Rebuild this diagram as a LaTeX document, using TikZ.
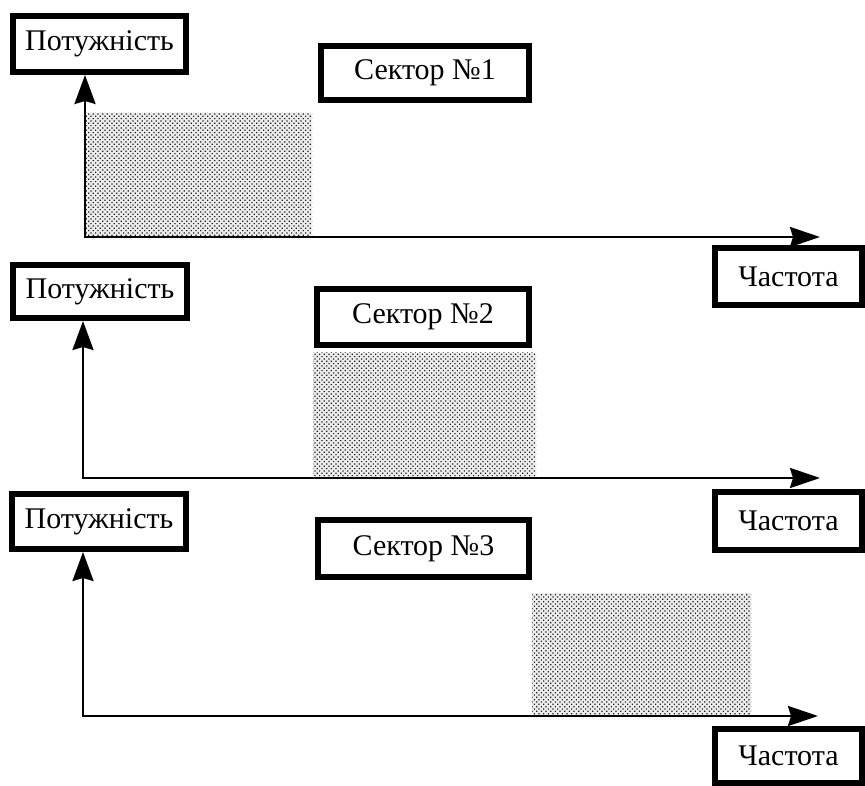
\documentclass[tikz,border=0pt]{standalone}
\usepackage{fontspec}
\setmainfont{Liberation Serif}
\usetikzlibrary{arrows.meta,patterns.meta}
% stippled fill for the occupied bands
\tikzdeclarepattern{
  name=stipple,
  type=uncolored,
  bounding box={(-1pt,-1pt) and (1pt,1pt)},
  tile size={(3.3pt,3.3pt)},
  tile transformation={rotate=45},
  code={\fill (0pt,0pt) circle (0.85pt);}
}
\tikzset{
  x=1pt, y=-1pt,
  tag/.style={draw=black, line width=6pt, fill=white, inner sep=0pt,
    font=\fontsize{30}{34}\selectfont, anchor=center},
  band/.style={pattern=stipple, pattern color=black!90},
  axis/.style={line width=2.5pt,
    {Stealth[length=29pt,width=21pt,inset=3pt]}-{Stealth[length=30pt,width=20pt,inset=3pt]}},
}
\begin{document}
\begin{tikzpicture}
\useasboundingbox (0,0) rectangle (865,786);

% occupied frequency bands
\fill[black!8] (86,113) rectangle (312,236);
\fill[band] (86,113) rectangle (312,236);
\fill[black!8] (313,353) rectangle (536,477);
\fill[band] (313,353) rectangle (536,477);
\fill[black!8] (532,593) rectangle (751,715);
\fill[band] (532,593) rectangle (751,715);

% panel 1
\node[tag, minimum width=173, minimum height=56] (p1) at (99.5,44) {Потужність};
\node[tag, minimum width=208, minimum height=54] (s1) at (425,73) {Сектор №1};
\node[tag, minimum width=147, minimum height=57] (f1) at (788.5,276.5) {Частота};
\coordinate (o1) at (85,237);
\coordinate (e1) at (820,237);
\draw[axis] (o1 |- p1.south) -- (o1) -- (e1);

% panel 2
\node[tag, minimum width=174, minimum height=53] (p2) at (100,291.5) {Потужність};
\node[tag, minimum width=212, minimum height=56] (s2) at (423,317) {Сектор №2};
\node[tag, minimum width=147, minimum height=58] (f2) at (788.5,521) {Частота};
\coordinate (o2) at (83,478);
\coordinate (e2) at (820,478);
\draw[axis] (o2 |- p2.south) -- (o2) -- (e2);

% panel 3
\node[tag, minimum width=174, minimum height=55] (p3) at (99,521.5) {Потужність};
\node[tag, minimum width=211, minimum height=57] (s3) at (423.5,548.5) {Сектор №3};
\node[tag, minimum width=147, minimum height=54] (f3) at (788.5,756) {Частота};
\coordinate (o3) at (83,716);
\coordinate (e3) at (818,716);
\draw[axis] (o3 |- p3.south) -- (o3) -- (e3);
\end{tikzpicture}
\end{document}
